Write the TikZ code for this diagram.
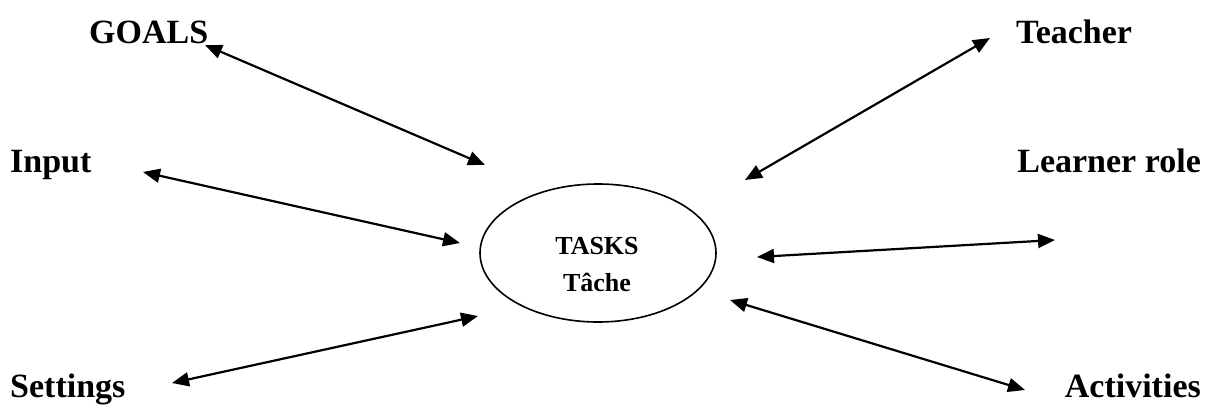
\documentclass[tikz,border=0pt]{standalone}
\usepackage{fontspec}
\setmainfont{Liberation Serif}
\usetikzlibrary{arrows.meta,shapes.geometric}
\begin{document}
\begin{tikzpicture}[x=1pt,y=-1pt,
  lbl/.style={font=\fontsize{34}{38}\selectfont\bfseries, inner sep=0pt},
  inner/.style={font=\fontsize{26}{30}\selectfont\bfseries, inner sep=0pt},
  link/.style={line width=2.2pt, {Triangle[length=17pt,width=14pt]}-{Triangle[length=17pt,width=14pt]}}
]
\useasboundingbox (0,0) rectangle (1207,408);
\node[draw, ellipse, line width=1.6pt, minimum width=236pt, minimum height=138pt, inner sep=0pt] (task) at (598,253) {};
\node[inner, anchor=base] (tasks) at (597,254) {TASKS};
\node[inner, anchor=base] (tache) at (597,291) {Tâche};
\node[lbl, anchor=base west] (goals) at (89,43) {GOALS};
\node[lbl, anchor=base west] (teacher) at (1016,43) {Teacher};
\node[lbl, anchor=base west] (input) at (10,172) {Input};
\node[lbl, anchor=base east] (learner) at (1201,172) {Learner role};
\node[lbl, anchor=base west] (settings) at (10,397) {Settings};
\node[lbl, anchor=base east] (activities) at (1201,397) {Activities};
\coordinate (g1) at (205,45); \coordinate (g2) at (485,165);
\coordinate (t1) at (990,38); \coordinate (t2) at (745,180);
\coordinate (i1) at (143,172); \coordinate (i2) at (460,243);
\coordinate (l1) at (757,257); \coordinate (l2) at (1055,240);
\coordinate (s1) at (172,383); \coordinate (s2) at (478,316);
\coordinate (a1) at (730,300); \coordinate (a2) at (1025,390);
\draw[link] (g1) -- (g2);
\draw[link] (t1) -- (t2);
\draw[link] (i1) -- (i2);
\draw[link] (l1) -- (l2);
\draw[link] (s1) -- (s2);
\draw[link] (a1) -- (a2);
\end{tikzpicture}
\end{document}
